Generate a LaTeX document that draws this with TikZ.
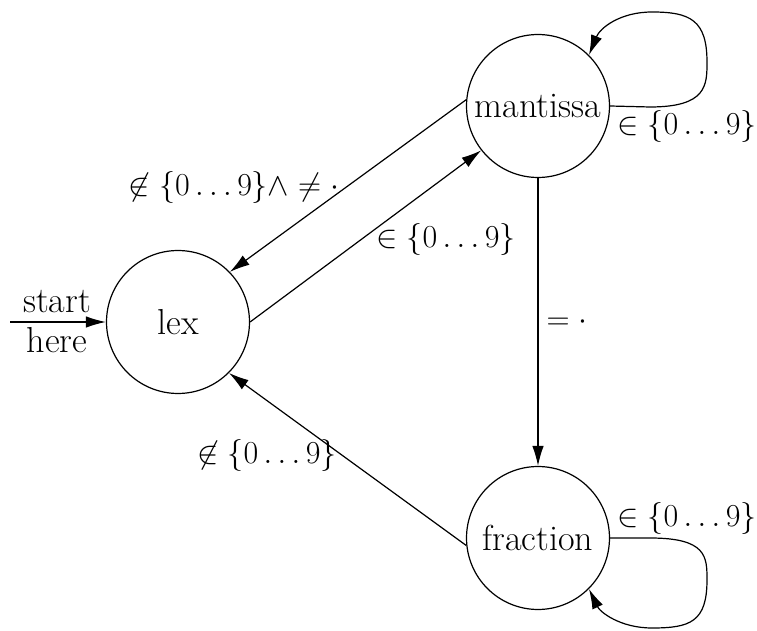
\documentclass[tikz,border=0pt]{standalone}
\usetikzlibrary{arrows.meta}
\begin{document}
\begin{tikzpicture}[x=0.54pt,y=-0.54pt,
  state/.style={draw,circle,line width=0.65pt,inner sep=0pt,minimum size=77.2pt,font=\fontsize{19.5}{23}\selectfont},
  edge/.style={line width=0.65pt,-{Latex[length=10.8pt,width=6.2pt]}},
  lbl/.style={inner sep=0pt,font=\LARGE},
  txt/.style={inner sep=0pt,font=\fontsize{19.5}{23}\selectfont}]
\useasboundingbox (0,0) rectangle (757,631);
\node[state] (lex) at (178,322) {lex};
\node[state] (man) at (538,106) {mantissa};
\node[state] (fra) at (538,538) {fraction};
\coordinate (s) at (10,322);
\draw[edge] (s) -- (lex.west);
\node[txt] (start) at (57,302) {start};
\node[txt] (here) at (57,340) {here};
\draw[edge] (man.175) -- (lex.44);
\draw[edge] (lex.east) -- (man.218);
\draw[edge] (man.south) -- (fra.north);
\draw[edge] (fra.186) -- (lex.-45);
\draw[edge] (man.east) -- (650,107) .. controls (707,107) and (707,85) .. (707,62)
  .. controls (707,20) and (690,12) .. (652,12) .. controls (620,12) and (600,28) .. (man.45);
\draw[edge] (fra.east) -- (650,538) .. controls (707,538) and (707,557) .. (707,580)
  .. controls (707,622) and (690,628) .. (652,628) .. controls (620,628) and (600,612) .. (fra.-45);
\node[lbl] (l1) at (234,188) {$\not\in\{0\ldots9\}\wedge\neq\cdot$};
\node[lbl] (l2) at (446,240) {$\in\{0\ldots9\}$};
\node[lbl] (l3) at (567,322) {$=\cdot$};
\node[lbl] (l4) at (267,456) {$\not\in\{0\ldots9\}$};
\node[lbl] (l5) at (687,127) {$\in\{0\ldots9\}$};
\node[lbl] (l6) at (687,519) {$\in\{0\ldots9\}$};
\end{tikzpicture}
\end{document}
